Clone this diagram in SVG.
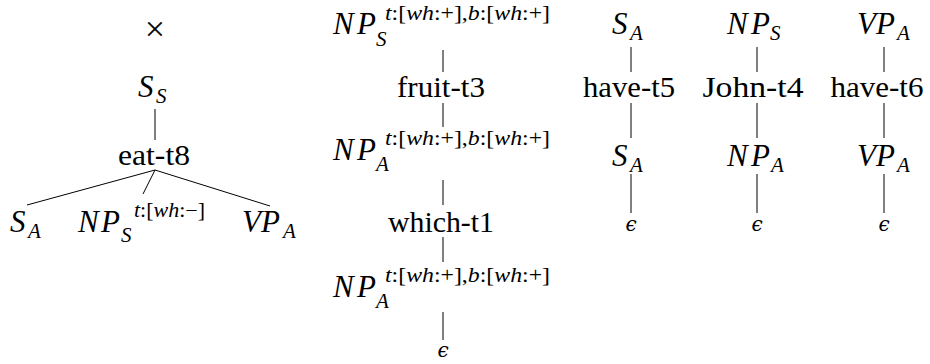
<svg xmlns="http://www.w3.org/2000/svg" width="930" height="364" viewBox="0 0 930 364">
<style>
.m{font-family:'Liberation Serif','DejaVu Serif',serif;font-style:italic;font-size:31px;fill:#000}
.s{font-family:'Liberation Serif','DejaVu Serif',serif;font-style:italic;font-size:21px;fill:#000}
.u{font-family:'Liberation Serif','DejaVu Serif',serif;font-style:italic;font-size:20px;fill:#000}
.n{font-style:normal}
.r{font-family:'Liberation Serif','DejaVu Serif',serif;font-size:29px;fill:#000;text-anchor:middle}
.e{font-family:'DejaVu Serif','Liberation Serif',serif;font-style:italic;font-size:20px;fill:#000;text-anchor:middle}
.x{font-family:'Liberation Serif','DejaVu Serif',serif;font-size:36px;fill:#000;text-anchor:middle}
#edges line{stroke:#000;stroke-width:1}
</style>
<rect width="930" height="364" fill="#fff"/>
<g id="edges">
<line x1="155" y1="109" x2="155" y2="140"/>
<line x1="155" y1="170" x2="27" y2="205"/>
<line x1="155" y1="170" x2="143" y2="194"/>
<line x1="155" y1="170" x2="270" y2="206"/>
<line x1="443" y1="50" x2="443" y2="72"/>
<line x1="443" y1="103" x2="443" y2="127"/>
<line x1="443" y1="180" x2="443" y2="205"/>
<line x1="443" y1="237" x2="443" y2="262"/>
<line x1="443" y1="312" x2="443" y2="340"/>
<line x1="631" y1="47" x2="631" y2="72"/>
<line x1="631" y1="103" x2="631" y2="138"/>
<line x1="631" y1="174" x2="631" y2="213"/>
<line x1="757" y1="47" x2="757" y2="72"/>
<line x1="757" y1="103" x2="757" y2="138"/>
<line x1="757" y1="174" x2="757" y2="213"/>
<line x1="884" y1="47" x2="884" y2="72"/>
<line x1="884" y1="103" x2="884" y2="138"/>
<line x1="884" y1="174" x2="884" y2="213"/>
</g>
<g id="t1-times"><text class="x" x="155" y="41">×</text></g>
<g id="t1-SS"><text class="m" x="138" y="97">S</text><text class="s" x="156" y="103">S</text></g>
<g id="t1-eat"><text class="r" x="154" y="165" textLength="72" lengthAdjust="spacingAndGlyphs">eat-t8</text></g>
<g id="t1-SA"><text class="m" x="10" y="232">S</text><text class="s" x="28" y="238">A</text></g>
<g id="t1-NPS"><text class="m" x="78" y="232">N</text><text class="m" x="101" y="232">P</text><text class="s" x="121" y="242">S</text><text class="u" x="134" y="217" textLength="71" lengthAdjust="spacingAndGlyphs">t<tspan class="n">:[</tspan>wh<tspan class="n">:−]</tspan></text></g>
<g id="t1-VPA"><text class="m" x="242" y="232">V</text><text class="m" x="261" y="232">P</text><text class="s" x="283" y="238">A</text></g>

<g id="t2-NPS"><text class="m" x="333" y="34">N</text><text class="m" x="357" y="34">P</text><text class="s" x="376" y="46">S</text><text class="u" x="385" y="20" textLength="165" lengthAdjust="spacingAndGlyphs">t<tspan class="n">:[</tspan>wh<tspan class="n">:+],</tspan>b<tspan class="n">:[</tspan>wh<tspan class="n">:+]</tspan></text></g>
<g id="t2-fruit"><text class="r" x="441" y="97" textLength="88" lengthAdjust="spacingAndGlyphs">fruit-t3</text></g>
<g id="t2-NPA1"><text class="m" x="333" y="160">N</text><text class="m" x="357" y="160">P</text><text class="s" x="376" y="171">A</text><text class="u" x="385" y="145" textLength="165" lengthAdjust="spacingAndGlyphs">t<tspan class="n">:[</tspan>wh<tspan class="n">:+],</tspan>b<tspan class="n">:[</tspan>wh<tspan class="n">:+]</tspan></text></g>
<g id="t2-which"><text class="r" x="441" y="232" textLength="106" lengthAdjust="spacingAndGlyphs">which-t1</text></g>
<g id="t2-NPA2"><text class="m" x="333" y="297">N</text><text class="m" x="357" y="297">P</text><text class="s" x="376" y="308">A</text><text class="u" x="385" y="282" textLength="165" lengthAdjust="spacingAndGlyphs">t<tspan class="n">:[</tspan>wh<tspan class="n">:+],</tspan>b<tspan class="n">:[</tspan>wh<tspan class="n">:+]</tspan></text></g>
<g id="t2-eps"><text class="e" x="443" y="357">ϵ</text></g>

<g id="t3-SA1"><text class="m" x="612" y="34">S</text><text class="s" x="630" y="40">A</text></g>
<g id="t3-have"><text class="r" x="629" y="97" textLength="92" lengthAdjust="spacingAndGlyphs">have-t5</text></g>
<g id="t3-SA2"><text class="m" x="612" y="166">S</text><text class="s" x="630" y="172">A</text></g>
<g id="t3-eps"><text class="e" x="631" y="231">ϵ</text></g>

<g id="t4-NPS"><text class="m" x="727" y="34">N</text><text class="m" x="751" y="34">P</text><text class="s" x="770" y="40">S</text></g>
<g id="t4-john"><text class="r" x="753" y="97" textLength="101" lengthAdjust="spacingAndGlyphs">John-t4</text></g>
<g id="t4-NPA"><text class="m" x="727" y="166">N</text><text class="m" x="751" y="166">P</text><text class="s" x="771" y="172">A</text></g>
<g id="t4-eps"><text class="e" x="757" y="231">ϵ</text></g>

<g id="t5-VPA1"><text class="m" x="857" y="34">V</text><text class="m" x="876" y="34">P</text><text class="s" x="897" y="40">A</text></g>
<g id="t5-have"><text class="r" x="877" y="97" textLength="93" lengthAdjust="spacingAndGlyphs">have-t6</text></g>
<g id="t5-VPA2"><text class="m" x="857" y="166">V</text><text class="m" x="876" y="166">P</text><text class="s" x="897" y="172">A</text></g>
<g id="t5-eps"><text class="e" x="884" y="231">ϵ</text></g>
</svg>
